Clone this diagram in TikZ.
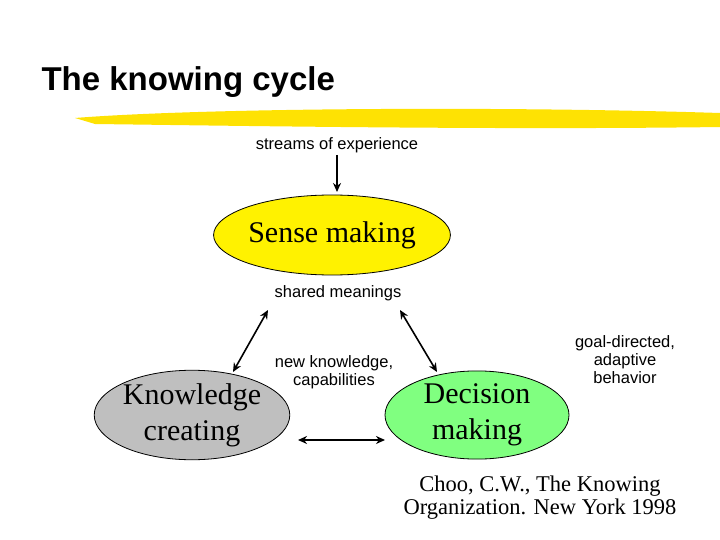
\documentclass[tikz,border=0pt]{standalone}
\usepackage{fontspec}
\setmainfont{Liberation Serif}
\newfontfamily\sans{Liberation Sans}
\usetikzlibrary{arrows.meta,shapes.geometric}
\begin{document}
\begin{tikzpicture}[x=1pt,y=-1pt,
  ell/.style={draw=black,line width=0.8pt,ellipse,inner sep=0pt},
  lbl/.style={font=\sans\fontsize{16.5}{17}\selectfont,align=center},
  big/.style={font=\fontsize{30}{36}\selectfont,align=center},
  arr/.style={line width=1.6pt,-{Stealth[length=9pt,width=8pt]}},
  darr/.style={line width=1.6pt,{Stealth[length=9pt,width=8pt]}-{Stealth[length=9pt,width=8pt]}}]
\useasboundingbox (0,0) rectangle (720,540);
\node[anchor=west,font=\sans\bfseries\fontsize{33}{36}\selectfont] (title) at (38,82) {The knowing cycle};
\fill[yellow!85!orange] (75,118) .. controls (200,108) and (500,106) .. (720,113) -- (720,127) .. controls (500,130) and (250,126) .. (95,124) -- cycle;
\node[lbl] (streams) at (337,145) {streams of experience};
\node[ell,fill=yellow,minimum width=180pt,minimum height=80pt,big] (sense) at (332,235) {Sense making};
\node[lbl] (shared) at (338,293) {shared meanings};
\node[ell,fill=black!25,minimum width=176pt,minimum height=76pt,big] (know) at (192,415) {Knowledge\\creating};
\node[ell,fill=green!50!white,minimum width=184pt,minimum height=76pt,big] (dec) at (477,415) {Decision\\making};
\node[lbl,font=\sans\fontsize{16.5}{18}\selectfont] (newk) at (334,372) {new knowledge,\\capabilities};
\node[lbl,font=\sans\fontsize{16.5}{18}\selectfont] (goal) at (625,360) {goal-directed,\\adaptive\\behavior};
\node[font=\fontsize{22.5}{23}\selectfont,align=center] (cite) at (540,498) {Choo, C.W., The Knowing\\Organization. New York 1998};
\coordinate (s1) at (337,155); \coordinate (s2) at (337,192);
\coordinate (a1) at (268,310); \coordinate (a2) at (233,372);
\coordinate (b1) at (400,310); \coordinate (b2) at (437,372);
\coordinate (c1) at (298,440); \coordinate (c2) at (385,440);
\draw[arr] (s1) -- (s2);
\draw[darr] (a1) -- (a2);
\draw[darr] (b1) -- (b2);
\draw[darr] (c1) -- (c2);
\end{tikzpicture}
\end{document}
